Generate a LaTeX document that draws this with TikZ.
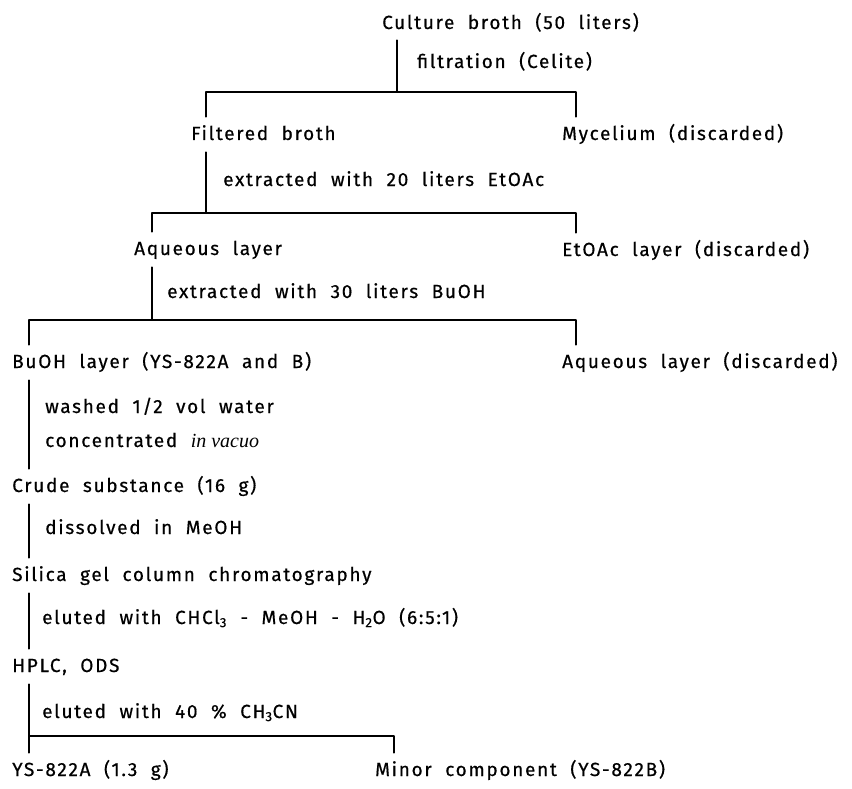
\documentclass[tikz,border=0pt]{standalone}
\usepackage{fontspec}
\setmainfont[LetterSpace=9,WordSpace=2,FakeBold=0.5]{Fira Sans}
\newfontfamily\vacuofont{Liberation Serif}
\begin{document}
\begin{tikzpicture}[x=1pt, y=-1pt, line cap=round, line join=round,
    stage/.style={anchor=base west, inner sep=0pt, text height=13pt, text depth=4pt,
        font=\fontsize{19}{21}\selectfont},
    treat/.style={stage},
    link/.style={line width=1.6pt}]
    \useasboundingbox (0,0) rectangle (852,789);

    % Products of each stage
    \node[stage] (culture) at (382,29) {Culture broth (50 liters)};
    \node[stage] (filtered) at (191,140) {Filtered broth};
    \node[stage] (mycel) at (562,140) {Mycelium (discarded)};
    \node[stage] (aqueous) at (134,255) {Aqueous layer};
    \node[stage] (etoac) at (562,256) {EtOAc layer (discarded)};
    \node[stage] (buoh) at (12,368) {BuOH layer (YS-822A and B)};
    \node[stage] (aqdisc) at (562,368) {Aqueous layer (discarded)};
    \node[stage] (crude) at (12,492) {Crude substance (16 g)};
    \node[stage] (silica) at (12,581) {Silica gel column chromatography};
    \node[stage] (hplc) at (12,672) {HPLC, ODS};
    \node[stage] (ys) at (12,776) {YS-822A (1.3 g)};
    \node[stage] (minor) at (375,776) {Minor component (YS-822B)};

    % Treatments
    \node[treat] (filt) at (417,68) {filtration (Celite)};
    \node[treat] (ext20) at (223,186) {extracted with 20 liters EtOAc};
    \node[treat] (ext30) at (167,298) {extracted with 30 liters BuOH};
    \node[treat] (wash) at (45,413) {washed 1/2 vol water};
    \node[treat] (conc) at (45,447) {concentrated {\vacuofont\itshape\fontsize{20}{21}\selectfont in vacuo}};
    \node[treat] (diss) at (45,534) {dissolved in MeOH};
    \node[treat] (elu1) at (42,624) {eluted with CHCl\textsubscript{3} - MeOH - H\textsubscript{2}O (6:5:1)};
    \node[treat] (elu2) at (42,718) {eluted with 40 \% CH\textsubscript{3}CN};

    % Junction points
    \coordinate (J1) at (397,92);
    \coordinate (J2) at (206,213);
    \coordinate (J3) at (152,320);
    \coordinate (J4) at (29,736);

    % Splits
    \draw[link] ([shift={(15,7)}]culture.south west) -- (J1);
    \draw[link] ([shift={(15,-10)}]filtered.north west) |- (J1) -| ([shift={(14,-10)}]mycel.north west);
    \draw[link] ([shift={(15,8)}]filtered.south west) -- (J2);
    \draw[link] ([shift={(18,-10)}]aqueous.north west) |- (J2) -| ([shift={(14,-10)}]etoac.north west);
    \draw[link] ([shift={(18,8)}]aqueous.south west) -- (J3);
    \draw[link] ([shift={(17,-10)}]buoh.north west) |- (J3) -| ([shift={(14,-10)}]aqdisc.north west);

    % Single steps
    \draw[link] ([shift={(17,8)}]buoh.south west) -- ([shift={(17,-10)}]crude.north west);
    \draw[link] ([shift={(17,8)}]crude.south west) -- ([shift={(17,-10)}]silica.north west);
    \draw[link] ([shift={(17,8)}]silica.south west) -- ([shift={(17,-10)}]hplc.north west);
    \draw[link] ([shift={(17,8)}]hplc.south west) -- ([shift={(17,-10)}]ys.north west);
    \draw[link] (J4) -| ([shift={(19,-10)}]minor.north west);
\end{tikzpicture}
\end{document}
